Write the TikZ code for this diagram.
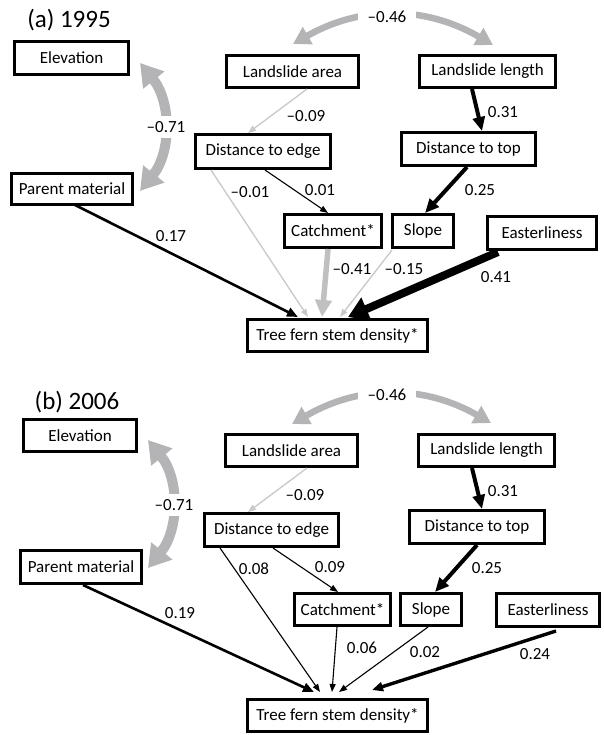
\documentclass[tikz,border=0pt]{standalone}
\usepackage{fontspec}
\setmainfont{Carlito}
\usetikzlibrary{arrows.meta,calc}
\definecolor{arcgray}{RGB}{180,180,183}
\definecolor{lgray}{RGB}{200,200,200}
\definecolor{mgray}{RGB}{192,192,192}
\newcommand\mybox[6]{\node[box,minimum width=#4,minimum height=#5] (#1) at (#2,#3) {#6};}
\newcommand\mylab[4]{\node[lab] (#1) at (#2,#3) {#4};}
\begin{document}
\begin{tikzpicture}[x=1pt,y=-1pt,
  box/.style={draw=black,line width=3.2pt,inner sep=0pt,font=\fontsize{17}{20}\selectfont},
  lab/.style={inner sep=1pt,font=\fontsize{17}{20}\selectfont},
  arclab/.style={fill=white,inner xsep=4pt,inner ysep=5pt,font=\fontsize{17}{20}\selectfont},
  title/.style={inner sep=0pt,font=\fontsize{25}{28}\selectfont},
  thinB/.style={draw=black,line width=1.1pt,-{Triangle[length=8pt,width=6pt]}},
  thinG/.style={draw=lgray,line width=1.3pt,-{Triangle[length=8pt,width=6pt]}},
  medB/.style={draw=black,line width=2.6pt,-{Triangle[length=11pt,width=9pt]}},
  thkB/.style={draw=black,line width=4pt,-{Triangle[length=14pt,width=12pt]}},
  thkG/.style={draw=mgray,line width=5.5pt,-{Triangle[length=17pt,width=16pt]}},
  hvyB/.style={draw=black,line width=8pt,-{Triangle[length=20pt,width=24pt]}},
  arcE/.style={draw=arcgray,line width=10pt,{Triangle[length=22pt,width=26pt]}-{Triangle[length=22pt,width=26pt]}},
  arcT/.style={draw=arcgray,line width=6.5pt,{Triangle[length=17pt,width=19pt]}-{Triangle[length=17pt,width=19pt]}}]
\useasboundingbox (0,0) rectangle (604,735);

% ---------------- panel (a)
\node[title] (titleA) at (69,20) {(a) 1995};
\mybox{elevA}{71.5}{58}{113.8}{32.8}{Elevation}
\mybox{parentA}{72}{189}{120.8}{30.8}{Parent material}
\mybox{areaA}{292.5}{71.5}{131.8}{31.8}{Landslide area}
\mybox{lengthA}{487.5}{71.5}{135.8}{31.8}{Landslide length}
\mybox{edgeA}{263}{151.5}{134.8}{33.8}{Distance to edge}
\mybox{topA}{468.5}{149}{133.8}{32.8}{Distance to top}
\mybox{catchA}{333}{231}{96.8}{32.8}{Catchment*}
\mybox{slopeA}{423}{231}{60.8}{32.8}{Slope}
\mybox{eastA}{542}{233}{108.8}{32.8}{Easterliness}
\mybox{treeA}{337.5}{335.5}{179.8}{31.8}{Tree fern stem density*}

\draw[arcE] ([xshift=10,yshift=-5]elevA.east) to[bend left=39] ([xshift=6,yshift=-2]parentA.east);
\node[arclab] (l71A) at (166,127) {\textendash0.71};
\draw[arcT] ([xshift=0.5,yshift=10]areaA.north) to[bend left=30] ([xshift=5.5,yshift=9]lengthA.north);
\node[arclab,inner xsep=10pt] (l46A) at (387,17) {\textendash0.46};

\draw[thinG] ([xshift=14.5]areaA.south) -- ([xshift=-15]edgeA.north);
\draw[thkB] ([xshift=-15.5]lengthA.south) -- ([xshift=13.5]topA.north);
\draw[thkB] ([xshift=-1.5]topA.south) -- ([xshift=2]slopeA.north);
\draw[thinB] ([xshift=2]edgeA.south) -- ([xshift=-5]catchA.north);
\draw[thinG] ([xshift=-52]edgeA.south) -- ([xshift=-29.5,yshift=1]treeA.north);
\draw[medB] ([xshift=3,yshift=1]parentA.south) -- ([xshift=-39.5,yshift=1]treeA.north);
\draw[thkG] ([xshift=-5]catchA.south) -- ([xshift=-15.5,yshift=1]treeA.north);
\draw[thinG] ([xshift=-31,yshift=-1]slopeA.south) -- ([xshift=2.5,yshift=1]treeA.north);
\draw[hvyB] ([xshift=-44,yshift=-1]eastA.south) -- ([xshift=10.5,yshift=1]treeA.north);

\mylab{l09A}{306}{116}{\textendash0.09}
\mylab{l31A}{503}{112}{0.31}
\mylab{l25A}{480}{190}{0.25}
\mylab{l01A}{320}{190}{0.01}
\mylab{lm01A}{250}{192}{\textendash0.01}
\mylab{l17A}{171}{236}{0.17}
\mylab{l41cA}{352}{269}{\textendash0.41}
\mylab{l15A}{404}{269}{\textendash0.15}
\mylab{l41eA}{496}{277}{0.41}

% ---------------- panel (b)
\node[title] (titleB) at (77,402) {(b) 2006};
\mybox{elevB}{80}{435.5}{112.8}{31.8}{Elevation}
\mybox{parentB}{81}{567}{120.8}{32.8}{Parent material}
\mybox{areaB}{291.5}{450.5}{131.8}{31.8}{Landslide area}
\mybox{lengthB}{486.5}{450.5}{135.8}{31.8}{Landslide length}
\mybox{edgeB}{271.5}{530}{133.8}{32.8}{Distance to edge}
\mybox{topB}{477}{527}{134.8}{32.8}{Distance to top}
\mybox{catchB}{342.5}{609.5}{95.8}{31.8}{Catchment*}
\mybox{slopeB}{431}{609.5}{60.8}{31.8}{Slope}
\mybox{eastB}{548}{610}{102.8}{32.8}{Easterliness}
\mybox{treeB}{337.5}{715.5}{179.8}{31.8}{Tree fern stem density*}

\draw[arcE] ([xshift=10,yshift=-4.5]elevB.east) to[bend left=39] ([xshift=5,yshift=-1]parentB.east);
\node[arclab] (l71B) at (174,505) {\textendash0.71};
\draw[arcT] ([xshift=0.5,yshift=9]areaB.north) to[bend left=30] ([xshift=4.5,yshift=10]lengthB.north);
\node[arclab,inner xsep=10pt] (l46B) at (387,395) {\textendash0.46};

\draw[thinG] ([xshift=15.5]areaB.south) -- ([xshift=-23.5]edgeB.north);
\draw[thkB] ([xshift=-14.5]lengthB.south) -- ([xshift=5]topB.north);
\draw[thkB] (topB.south) -- ([xshift=4]slopeB.north);
\draw[thinB] ([xshift=1.5]edgeB.south) -- ([xshift=-4.5]catchB.north);
\draw[thinB] ([xshift=-51.5]edgeB.south) -- ([xshift=-17.5,yshift=6]treeB.north);
\draw[medB] ([xshift=2]parentB.south) -- ([xshift=-23.5,yshift=6]treeB.north);
\draw[thinB] ([xshift=-5.5]catchB.south) -- ([xshift=-5.5,yshift=6]treeB.north);
\draw[thinB] ([xshift=-3]slopeB.south) -- ([xshift=1.5,yshift=6]treeB.north);
\draw[medB,line width=3.4pt] ([xshift=8,yshift=-3]eastB.south) -- ([xshift=34.5,yshift=8]treeB.north);

\mylab{l09B}{305}{495}{\textendash0.09}
\mylab{l31B}{503}{491}{0.31}
\mylab{l25B}{487}{568}{0.25}
\mylab{l09cB}{330}{567}{0.09}
\mylab{l08B}{254}{569}{0.08}
\mylab{l19B}{180}{613}{0.19}
\mylab{l06B}{362}{648}{0.06}
\mylab{l02B}{425}{652}{0.02}
\mylab{l24B}{535}{654}{0.24}
\end{tikzpicture}
\end{document}
